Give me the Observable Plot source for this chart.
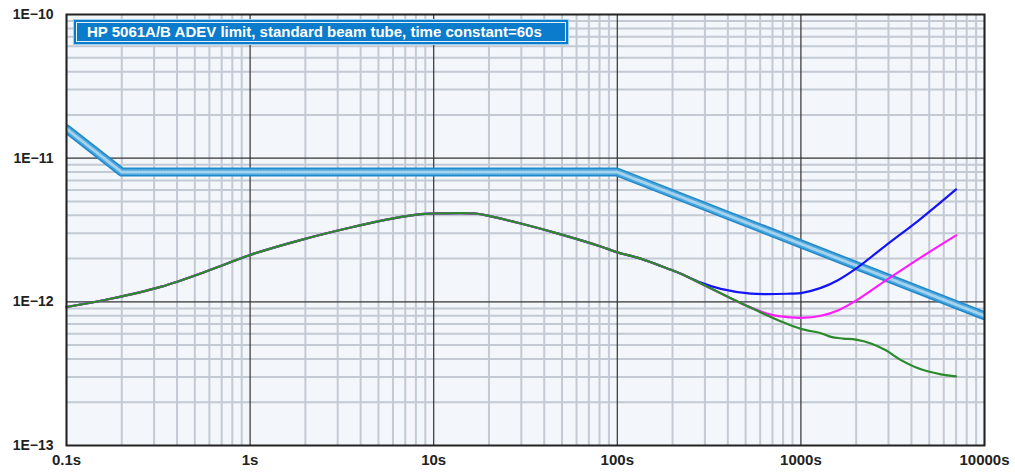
<!DOCTYPE html>
<html>
<head>
<meta charset="utf-8">
<script src="https://cdn.jsdelivr.net/npm/d3@7"></script>
<script src="https://cdn.jsdelivr.net/npm/@observablehq/plot@0.6"></script>
<style>
  html, body { margin: 0; padding: 0; background: #ffffff; }
  #wrap { position: relative; width: 1015px; height: 473px; font-family: "Liberation Sans", Arial, sans-serif; }
  #legend {
    position: absolute; left: 73px; top: 19px; width: 496px; height: 26px; box-sizing: border-box;
    background: #0b7bcb; border: 1px solid #9fd0f0; padding: 2px;
  }
  #legend .inner {
    box-sizing: border-box; width: 100%; height: 100%; border: 1px solid #e3f1fb;
    color: #ffffff; font-weight: bold; font-size: 15px; line-height: 18px; padding-left: 10px; white-space: nowrap;
  }
</style>
</head>
<body>
<div id="wrap"><div id="legend"><div class="inner" id="legendText"></div></div></div>
<script>
// ---- data ----
const legendTitle = "HP 5061A/B ADEV limit, standard beam tube, time constant=60s";

const xTickValues = [0.1, 1, 10, 100, 1000, 10000];
const xTickLabels = ["0.1s", "1s", "10s", "100s", "1000s", "10000s"];
const yTickValues = [1e-13, 1e-12, 1e-11, 1e-10];
const yTickLabels = ["1E\u221213", "1E\u221212", "1E\u221211", "1E\u221210"];

// specification limit (tau in s, ADEV)
const limitTau  = [0.1, 0.2, 100, 10000];
const limitAdev = [1.6e-11, 8e-12, 8e-12, 8e-13];

// part common to all three measured curves
const sharedTau  = [0.1, 0.174, 0.325, 0.609, 1.0, 1.88, 3.53, 5.83, 8.5, 10, 16.9, 20.5, 29.8, 49.2, 81.2, 100, 134, 196, 222];
const sharedAdev = [9.2e-13, 1.05e-12, 1.27e-12, 1.67e-12, 2.12e-12, 2.69e-12, 3.29e-12, 3.78e-12, 4.08e-12, 4.12e-12, 4.12e-12, 3.93e-12, 3.51e-12, 2.95e-12, 2.43e-12, 2.21e-12, 2.0e-12, 1.67e-12, 1.57e-12];

// blue tail
const blueTau  = [285, 366, 534, 882, 1000, 1285, 1600, 1994, 2904, 4508, 7000];
const blueAdev = [1.36e-12, 1.23e-12, 1.14e-12, 1.14e-12, 1.15e-12, 1.25e-12, 1.42e-12, 1.70e-12, 2.47e-12, 3.80e-12, 6.06e-12];

// part common to magenta and green
const mgTau  = [285, 415, 514];
const mgAdev = [1.34e-12, 1.06e-12, 9.3e-13];

// magenta tail
const magentaTau  = [686, 882, 1000, 1285, 1600, 1994, 2904, 4508, 7000];
const magentaAdev = [8.15e-13, 7.79e-13, 7.73e-13, 8.0e-13, 8.75e-13, 1.02e-12, 1.41e-12, 2.04e-12, 2.90e-12];

// green tail
const greenTau  = [605, 800, 1000, 1285, 1457, 1700, 1994, 2407, 2904, 3508, 4508, 5795, 7000];
const greenAdev = [8.44e-13, 7.2e-13, 6.48e-13, 6.05e-13, 5.7e-13, 5.55e-13, 5.45e-13, 5.13e-13, 4.6e-13, 3.93e-13, 3.39e-13, 3.13e-13, 3.03e-13];

// ---- build tables ----
const zip = (t, v) => t.map((d, i) => ({tau: d, adev: v[i]}));
const limit = zip(limitTau, limitAdev);
const shared = zip(sharedTau, sharedAdev);
const blue = shared.concat(zip(blueTau, blueAdev));
const magenta = shared.concat(zip(mgTau, mgAdev), zip(magentaTau, magentaAdev));
const green = shared.concat(zip(mgTau, mgAdev), zip(greenTau, greenAdev));

// minor grid positions (2..9 within each decade)
const minorX = [];
for (let e = -1; e < 4; e++) for (let k = 2; k <= 9; k++) minorX.push(k * Math.pow(10, e));
const minorY = [];
for (let e = -13; e < -10; e++) for (let k = 2; k <= 9; k++) minorY.push(k * Math.pow(10, e));

const xLab = d => xTickLabels[xTickValues.indexOf(d)];
const yLab = d => yTickLabels[yTickValues.indexOf(d)];

const chart = Plot.plot({
  width: 1015,
  height: 473,
  marginLeft: 66,
  marginRight: 31,
  marginTop: 14,
  marginBottom: 28,
  style: {fontFamily: "'Liberation Sans', Arial, sans-serif", background: "transparent", overflow: "visible"},
  x: {type: "log", domain: [0.1, 10000]},
  y: {type: "log", domain: [1e-13, 1e-10]},
  marks: [
    Plot.frame({fill: "#f3f6fb", stroke: null}),
    Plot.gridX(minorX, {stroke: "#c3cad4", strokeOpacity: 1, strokeWidth: 2}),
    Plot.gridY(minorY, {stroke: "#c3cad4", strokeOpacity: 1, strokeWidth: 2}),
    Plot.gridX(xTickValues, {stroke: "#333", strokeOpacity: 1, strokeWidth: 1.2}),
    Plot.gridY(yTickValues, {stroke: "#333", strokeOpacity: 1, strokeWidth: 1.2}),
    Plot.line(limit, {x: "tau", y: "adev", stroke: "#2089cc", strokeWidth: 9, clip: true}),
    Plot.line(limit, {x: "tau", y: "adev", stroke: "#4aa6dc", strokeWidth: 6, clip: true}),
    Plot.line(limit, {x: "tau", y: "adev", stroke: "#ffffff", strokeOpacity: 0.5, strokeWidth: 3, strokeDasharray: "1,2", clip: true}),
    Plot.line(blue, {x: "tau", y: "adev", stroke: "#1414f5", strokeWidth: 2.2, curve: "catmull-rom"}),
    Plot.line(magenta, {x: "tau", y: "adev", stroke: "#ff1cff", strokeWidth: 2.2, curve: "catmull-rom"}),
    Plot.line(green, {x: "tau", y: "adev", stroke: "#2b8a2b", strokeWidth: 2.2, curve: "catmull-rom"}),
    Plot.frame({stroke: "#222", strokeWidth: 2}),
    Plot.axisX(xTickValues, {tickSize: 0, tickPadding: 9, tickFormat: xLab, fontSize: 15, fontWeight: "bold", fill: "#222", label: null}),
    Plot.axisY(yTickValues, {tickSize: 0, tickPadding: 13, tickFormat: yLab, fontSize: 14, fontWeight: "bold", fill: "#222", label: null})
  ]
});

const wrap = document.getElementById("wrap");
wrap.insertBefore(chart, wrap.firstChild);
document.getElementById("legendText").textContent = legendTitle;
</script>
</body>
</html>
